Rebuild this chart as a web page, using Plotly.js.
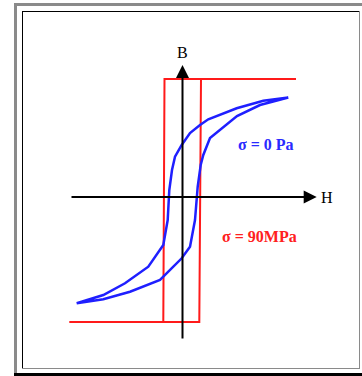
<!DOCTYPE html>
<html>
<head>
<meta charset="utf-8">
<script src="https://cdn.plot.ly/plotly-3.0.1.min.js"></script>
<style>
  html, body { margin: 0; padding: 0; background: #ffffff; }
  #chart { width: 362px; height: 376px; }
</style>
</head>
<body>
<div id="chart"></div>
<script>
// Hysteresis loop, sigma = 0 Pa (blue): descending branch then ascending branch
const blueH = [1.058, 0.808, 0.542, 0.258, 0.175, 0.075, -0.008, -0.075, -0.105, -0.132, -0.148, -0.192, -0.342, -0.575, -0.792, -1.058,
               -0.792, -0.525, -0.225, -0.008, 0.075, 0.125, 0.152, 0.182, 0.208, 0.275, 0.545, 0.775, 1.058];
const blueB = [0.995, 0.963, 0.887, 0.777, 0.72, 0.64, 0.52, 0.403, 0.27, 0.07, -0.23, -0.48, -0.697, -0.863, -0.98, -1.063,
               -1.023, -0.947, -0.83, -0.613, -0.497, -0.23, 0.103, 0.32, 0.42, 0.59, 0.81, 0.92, 0.995];

// Square loop, sigma = 90 MPa (red)
const redH = [-1.132, 0.168, 0.185, 1.135, -0.18, -0.192];
const redB = [-1.25, -1.25, 1.18, 1.18, 1.18, -1.25];

// Axis extents and labels
const axisH = [-1.125, 1.342];
const axisB = [-1.43, 1.32];
const axisLabels = ["H", "B"];
const seriesLabels = ["σ = 0 Pa", "σ = 90MPa"];

const W = 362, Hh = 376;
const px = v => v / W;
const py = v => 1 - v / Hh;

const traces = [
  { x: redH, y: redB, mode: "lines", line: { color: "#ff1a1a", width: 2 }, hoverinfo: "skip", showlegend: false },
  { x: blueH, y: blueB, mode: "lines", line: { color: "#1f1fff", width: 2.5 }, hoverinfo: "skip", showlegend: false }
];

function rect(x0, y0, x1, y1, color) {
  return { type: "rect", xref: "paper", yref: "paper", x0: px(x0), x1: px(x1), y0: py(y1), y1: py(y0),
           fillcolor: color, line: { width: 0 }, layer: "below" };
}

const shapes = [
  rect(14, 3, 362, 6, "#8a8a8a"),
  rect(14, 3, 17, 373, "#8a8a8a"),
  rect(14, 373, 362, 376, "#000000"),
  rect(22, 11, 360, 12, "#000000"),
  rect(22, 11, 23, 368, "#000000"),
  rect(359, 11, 360, 369, "#8a8a8a"),
  rect(22, 368, 360, 369, "#8a8a8a")
];

const annotations = [
  { x: axisH[1], y: 0, ax: axisH[0], ay: 0, xref: "x", yref: "y", axref: "x", ayref: "y",
    showarrow: true, arrowhead: 2, arrowsize: 1.3, arrowwidth: 2, arrowcolor: "#000", text: "", standoff: 0 },
  { x: 0, y: axisB[1], ax: 0, ay: axisB[0], xref: "x", yref: "y", axref: "x", ayref: "y",
    showarrow: true, arrowhead: 2, arrowsize: 1.3, arrowwidth: 2, arrowcolor: "#000", text: "", standoff: 0 },
  { x: 1.445, y: 0, xref: "x", yref: "y", text: axisLabels[0], showarrow: false,
    font: { family: "Liberation Serif", size: 16, color: "#000" } },
  { x: 0, y: 1.45, xref: "x", yref: "y", text: axisLabels[1], showarrow: false,
    font: { family: "Liberation Serif", size: 16, color: "#000" } },
  { x: 0.833, y: 0.53, xref: "x", yref: "y", text: "<b>" + seriesLabels[0] + "</b>", showarrow: false,
    font: { family: "Liberation Serif", size: 16, color: "#2a2aff" } },
  { x: 0.77, y: -0.397, xref: "x", yref: "y", text: "<b>" + seriesLabels[1] + "</b>", showarrow: false,
    font: { family: "Liberation Serif", size: 16, color: "#ff2020" } }
];

const layout = {
  width: W, height: Hh,
  margin: { l: 0, r: 0, t: 0, b: 0, pad: 0 },
  paper_bgcolor: "#ffffff", plot_bgcolor: "#ffffff",
  xaxis: { range: [-1.825, 1.795], visible: false, fixedrange: true },
  yaxis: { range: [-1.79, 1.97], visible: false, fixedrange: true },
  shapes: shapes,
  annotations: annotations,
  showlegend: false
};

Plotly.newPlot("chart", traces, layout, { displayModeBar: false, staticPlot: true });
</script>
</body>
</html>
